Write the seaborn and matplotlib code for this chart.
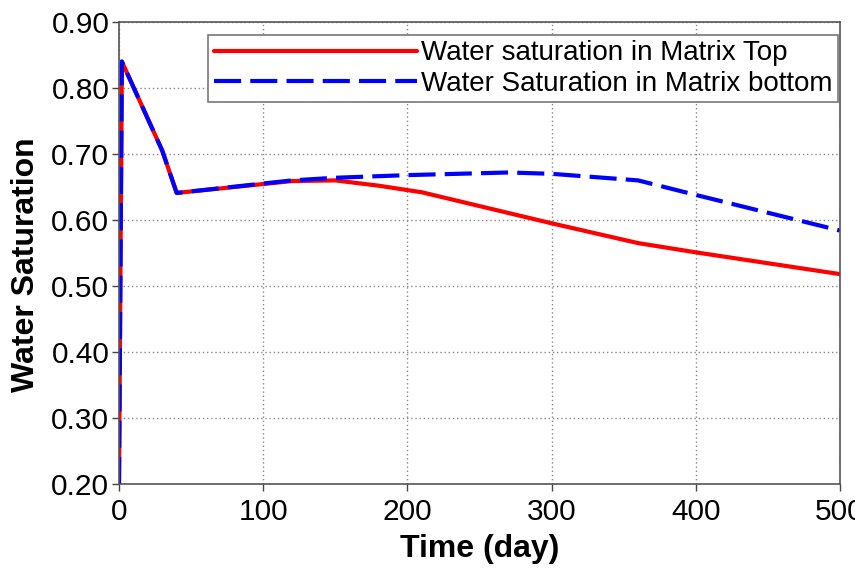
import matplotlib
matplotlib.use("Agg")
import matplotlib.pyplot as plt
import seaborn as sns
import pandas as pd

# Data
time_top = [0, 2, 30, 40, 120, 150, 180, 210, 300, 360, 400, 500]
sat_top = [0.20, 0.84, 0.705, 0.641, 0.659, 0.660, 0.652, 0.642, 0.595, 0.565, 0.551, 0.518]
time_bottom = [0, 2, 30, 40, 120, 150, 200, 270, 300, 360, 400, 500]
sat_bottom = [0.20, 0.84, 0.705, 0.641, 0.660, 0.664, 0.668, 0.672, 0.670, 0.660, 0.638, 0.584]
label_top = "Water saturation in Matrix Top"
label_bottom = "Water Saturation in Matrix bottom"
x_ticks = [0, 100, 200, 300, 400, 500]
y_ticks = [0.20, 0.30, 0.40, 0.50, 0.60, 0.70, 0.80, 0.90]

sns.set_theme(style="white")
plt.rcParams['font.family'] = ['Liberation Sans', 'DejaVu Sans']
plt.rcParams['text.color'] = 'black'
plt.rcParams['axes.labelcolor'] = 'black'
plt.rcParams['xtick.color'] = 'black'
plt.rcParams['ytick.color'] = 'black'

fig = plt.figure(figsize=(8.55, 5.75), dpi=100)
ax = fig.add_axes([119 / 855, 1 - 484 / 575, (840 - 119) / 855, (484 - 22) / 575])

df_top = pd.DataFrame({"t": time_top, "s": sat_top})
df_bot = pd.DataFrame({"t": time_bottom, "s": sat_bottom})
sns.lineplot(data=df_top, x="t", y="s", ax=ax, color="#ff0000", lw=3.0,
             label=label_top, estimator=None, sort=False)
sns.lineplot(data=df_bot, x="t", y="s", ax=ax, color="#0000ff", lw=3.0,
             label=label_bottom, estimator=None, sort=False)
ax.lines[1].set_dashes([6.5, 2.2])

ax.set_xlim(0, 500)
ax.set_ylim(0.20, 0.90)
ax.set_xticks(x_ticks)
ax.set_xticklabels([str(v) for v in x_ticks])
ax.set_yticks(y_ticks)
ax.set_yticklabels([f"{v:.2f}" for v in y_ticks])
ax.tick_params(axis='both', labelsize=21.5, direction='out', length=5, width=1,
               color='#444444', left=True, bottom=True, pad=2)
ax.tick_params(axis='x', pad=5)
ax.grid(True, linestyle=(0, (1, 2)), color='#888888', lw=1)
for sp in ax.spines.values():
    sp.set_color('#555555')
    sp.set_linewidth(1.2)

ax.set_xlabel("Time (day)", fontsize=23, fontweight='bold', labelpad=6)
ax.set_ylabel("Water Saturation", fontsize=23, fontweight='bold', labelpad=6)
ax.yaxis.set_label_coords(-0.108, 0.475)

leg = ax.legend(loc='upper right', bbox_to_anchor=(0.997, 0.972), fontsize=20,
                frameon=True, fancybox=False, edgecolor='#777777', framealpha=1,
                handlelength=7.3, handletextpad=0.15, borderpad=0.2,
                labelspacing=0.15, borderaxespad=0.0)
leg.get_frame().set_linewidth(1.2)

fig.savefig("out.png", dpi=100)
